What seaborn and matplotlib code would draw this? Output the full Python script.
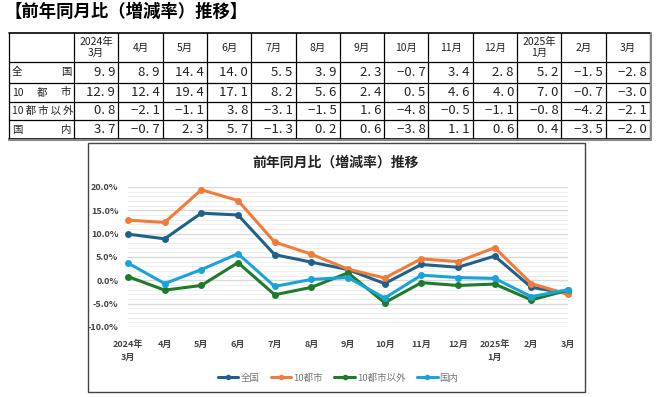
import numpy as np
import pandas as pd
import matplotlib
matplotlib.use("Agg")
import matplotlib.pyplot as plt
from matplotlib.ticker import MultipleLocator, FuncFormatter
import seaborn as sns

# データ ===================================================================
months = ["2024年\n3月", "4月", "5月", "6月", "7月", "8月", "9月",
          "10月", "11月", "12月", "2025年\n1月", "2月", "3月"]
series_names = ["全国", "10都市", "10都市以外", "国内"]
zenkoku = [9.9, 8.9, 14.4, 14.0, 5.5, 3.9, 2.3, -0.7, 3.4, 2.8, 5.2, -1.5, -2.8]
toshi10 = [12.9, 12.4, 19.4, 17.1, 8.2, 5.6, 2.4, 0.5, 4.6, 4.0, 7.0, -0.7, -3.0]
igai10 = [0.8, -2.1, -1.1, 3.8, -3.1, -1.5, 1.6, -4.8, -0.5, -1.1, -0.8, -4.2, -2.1]
kokunai = [3.7, -0.7, 2.3, 5.7, -1.3, 0.2, 0.6, -3.8, 1.1, 0.6, 0.4, -3.5, -2.0]
row_labels = [["全", "国"], ["10", "都", "市"], ["10\u2009都\u2009市\u2009以\u2009外"], ["国", "内"]]
colors = ["#1F6188", "#F07B3A", "#1E7B2A", "#1AA3DB"]

values = [zenkoku, toshi10, igai10, kokunai]

sns.set_theme(style="white")
plt.rcParams['font.family'] = ['Noto Sans CJK JP', 'DejaVu Sans']

W, H = 658, 397
fig = plt.figure(figsize=(W / 100, H / 100), dpi=100)

# 全体用の座標系（ピクセル）
base = fig.add_axes([0, 0, 1, 1])
base.set_xlim(0, W)
base.set_ylim(H, 0)
base.axis("off")

# タイトル
base.text(5, 12, "【前年同月比（増減率）推移】", fontsize=12.5, fontweight="bold",
          ha="left", va="center", color="black")

# 表 =======================================================================
left, first_w, col_w = 9, 65, 44.3
row_y = [33, 62, 83, 102, 120, 139]
col_x = [left, left + first_w] + [left + first_w + col_w * (i + 1) for i in range(len(months))]

for y in row_y:
    lw = 1.2 if y in (33, 139) else 0.9
    base.plot([col_x[0], col_x[-1]], [y, y], color="black", lw=lw)
for x in col_x:
    base.plot([x, x], [row_y[0], row_y[-1]], color="black", lw=0.9)
base.plot([col_x[-1] + 1, col_x[-1] + 1], [row_y[0], row_y[-1] + 1], color="#888888", lw=1.5)
base.plot([col_x[0], col_x[-1] + 1], [row_y[-1] + 1, row_y[-1] + 1], color="#888888", lw=1.5)

for j, m in enumerate(months):
    cx = (col_x[j + 1] + col_x[j + 2]) / 2
    base.text(cx, (row_y[0] + row_y[1]) / 2, m, fontsize=7.5, ha="center", va="center",
              linespacing=1.1, color="#222222")

for i, (labs, vals) in enumerate(zip(row_labels, values)):
    cy = (row_y[i + 1] + row_y[i + 2]) / 2
    # 行見出しは均等割り付け
    x0, x1 = col_x[0] + 3, col_x[1] - 3
    n = len(labs)
    if n == 1:
        base.text(x0, cy, labs[0], fontsize=7.5, ha="left", va="center", color="#222222")
    for k, ch in enumerate(labs if n > 1 else []):
        xx = x0 + (x1 - x0) * k / (n - 1)
        ha = "left" if k == 0 else ("right" if k == n - 1 else "center")
        base.text(xx, cy, ch, fontsize=7.5, ha=ha, va="center", color="#222222")
    for j, v in enumerate(vals):
        s = f"{v:.1f}".replace(".", ". ").replace("-", "−")
        base.text(col_x[j + 2] - 3, cy, s, fontsize=9.5, ha="right", va="center",
                  color="#222222")

# グラフ枠
base.add_patch(plt.Rectangle((88, 143), 497, 249, fill=False, ec="#444444", lw=1.0))
base.text(336, 163, "前年同月比（増減率）推移", fontsize=10, fontweight="bold",
          ha="center", va="center", color="#222222")

# 折れ線グラフ =============================================================
df = pd.DataFrame({
    "x": list(range(len(months))) * len(series_names),
    "系列": np.repeat(series_names, len(months)),
    "値": zenkoku + toshi10 + igai10 + kokunai,
})

ax = fig.add_axes([128 / W, 1 - 327 / H, (568 - 128) / W, (327 - 187) / H])
ax.set_facecolor("none")
sns.lineplot(data=df, x="x", y="値", hue="系列", palette=colors, marker="o",
             markersize=5, markeredgewidth=0, linewidth=2.2, ax=ax, legend=False,
             clip_on=False, zorder=3)
ax.set_xlim(0, len(months) - 1)
ax.set_ylim(-10, 20)
ax.yaxis.set_major_locator(MultipleLocator(5))
ax.yaxis.set_minor_locator(MultipleLocator(1))
ax.yaxis.set_major_formatter(FuncFormatter(lambda v, p: f"{v:.1f}%"))
ax.grid(which="major", axis="y", color="#D9D9D9", lw=1.0)
ax.grid(which="minor", axis="y", color="#EEEEEE", lw=0.8)
ax.set_axisbelow(True)
for sp in ax.spines.values():
    sp.set_visible(False)
ax.set_xticks(range(len(months)))
ax.set_xticklabels(months, linespacing=1.6)
ax.tick_params(axis="both", which="both", length=0, labelsize=6.5, labelcolor="#444444")
ax.tick_params(axis="y", pad=7)
ax.tick_params(axis="x", pad=9)
for lab in ax.get_xticklabels() + ax.get_yticklabels():
    lab.set_fontweight("bold")
ax.set_xlabel("")
ax.set_ylabel("")

# 凡例
handles = [plt.Line2D([], [], color=c, marker="o", markersize=4, markeredgewidth=0, lw=2.2)
           for c in colors]
fig.legend(handles, series_names, loc="center", bbox_to_anchor=(338 / W, 1 - 378 / H),
           ncol=4, frameon=False, fontsize=6.8, labelcolor="#777777",
           handlelength=2.2, handletextpad=0.2, columnspacing=1.2)

fig.savefig("out.png", dpi=100)
